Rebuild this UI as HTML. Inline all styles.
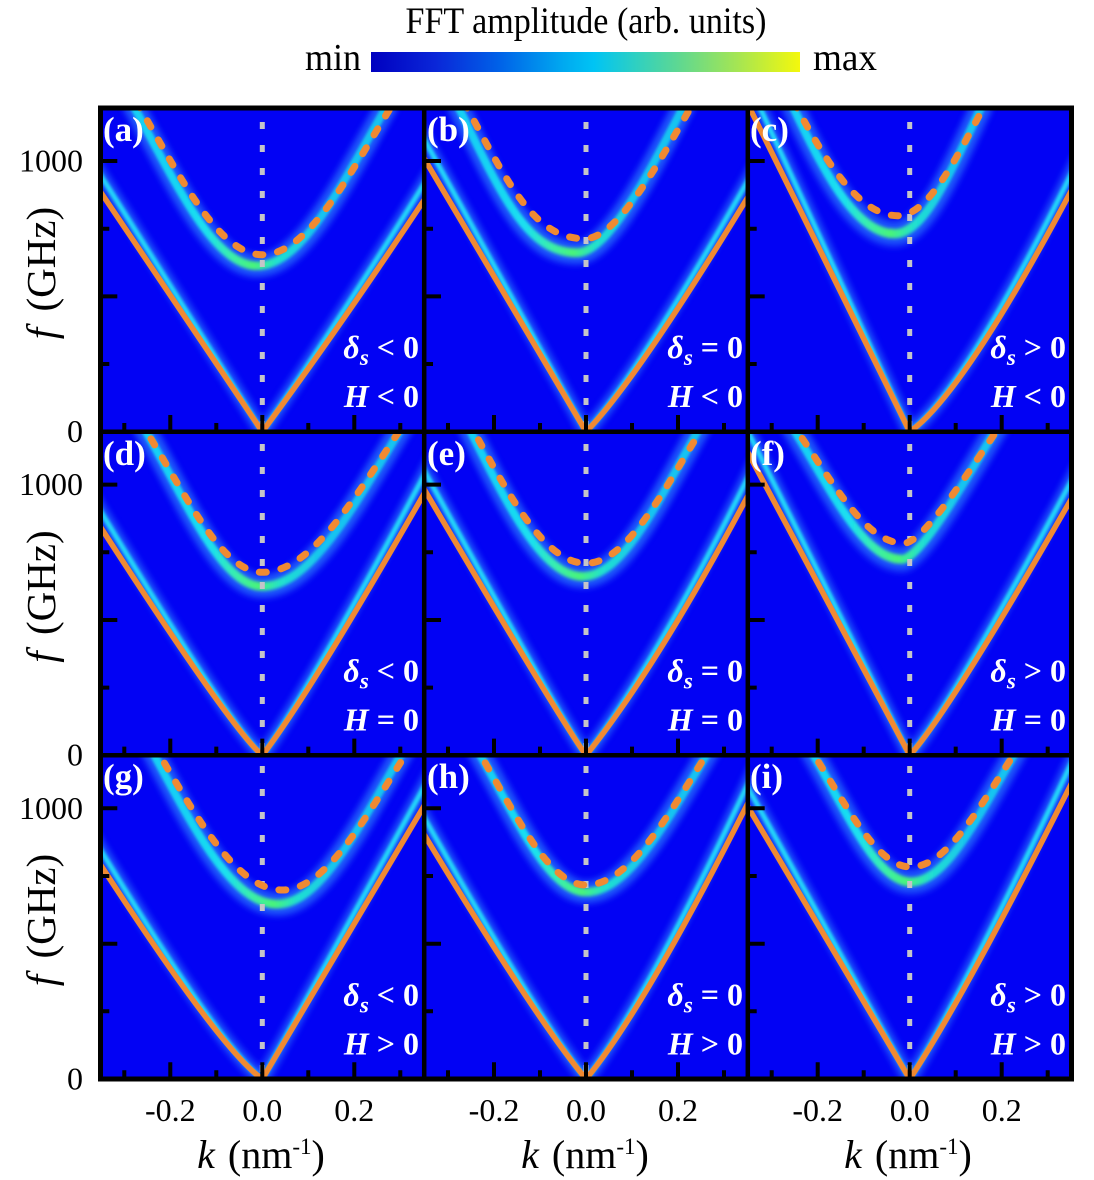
<!DOCTYPE html>
<html>
<head>
<meta charset="utf-8">
<style>
  html, body { margin:0; padding:0; background:#ffffff; }
  svg { display:block; font-family: "Liberation Serif", "Times New Roman", serif; }
  svg text { font-family: "Liberation Serif", "Times New Roman", serif; }
</style>
</head>
<body>
<svg width="1094" height="1180" viewBox="0 0 1094 1180" xmlns="http://www.w3.org/2000/svg" font-family="Liberation Serif, Times New Roman, serif">
  <defs>
    <linearGradient id="cbar" x1="0" y1="0" x2="1" y2="0">
      <stop offset="0" stop-color="#0000c0"/>
      <stop offset="0.15" stop-color="#0a26d8"/>
      <stop offset="0.3" stop-color="#0062e8"/>
      <stop offset="0.45" stop-color="#00aaf0"/>
      <stop offset="0.52" stop-color="#00c4f4"/>
      <stop offset="0.62" stop-color="#30d0c0"/>
      <stop offset="0.72" stop-color="#60d890"/>
      <stop offset="0.86" stop-color="#a8e650"/>
      <stop offset="1" stop-color="#f4f80c"/>
    </linearGradient>
    <clipPath id="cp" clipPathUnits="userSpaceOnUse">
      <rect x="-161.8" y="0" width="323.6" height="323.7"/>
    </clipPath>
    <filter id="b3" x="-20%" y="-20%" width="140%" height="140%"><feGaussianBlur stdDeviation="3.2"/></filter>
    <filter id="b1" x="-20%" y="-20%" width="140%" height="140%"><feGaussianBlur stdDeviation="1.4"/></filter>
    <linearGradient id="gA" gradientUnits="userSpaceOnUse" x1="-100" y1="0" x2="60" y2="0"><stop offset="0" stop-color="#18d0f4"/><stop offset="0.3" stop-color="#1ae0f0"/><stop offset="0.45" stop-color="#38eeb0"/><stop offset="0.6" stop-color="#48f47a"/><stop offset="0.75" stop-color="#20e0d0"/><stop offset="1" stop-color="#18c4f0"/></linearGradient>
    <linearGradient id="gB" gradientUnits="userSpaceOnUse" x1="-101" y1="0" x2="59" y2="0"><stop offset="0" stop-color="#18d0f4"/><stop offset="0.3" stop-color="#1ae0f0"/><stop offset="0.45" stop-color="#38eeb0"/><stop offset="0.6" stop-color="#48f47a"/><stop offset="0.75" stop-color="#20e0d0"/><stop offset="1" stop-color="#18c4f0"/></linearGradient>
    <linearGradient id="gC" gradientUnits="userSpaceOnUse" x1="-112" y1="0" x2="48" y2="0"><stop offset="0" stop-color="#18d0f4"/><stop offset="0.3" stop-color="#1ae0f0"/><stop offset="0.45" stop-color="#38eeb0"/><stop offset="0.6" stop-color="#48f47a"/><stop offset="0.75" stop-color="#20e0d0"/><stop offset="1" stop-color="#18c4f0"/></linearGradient>
    <linearGradient id="gD" gradientUnits="userSpaceOnUse" x1="-100" y1="0" x2="60" y2="0"><stop offset="0" stop-color="#18d0f4"/><stop offset="0.3" stop-color="#1ae0f0"/><stop offset="0.45" stop-color="#38eeb0"/><stop offset="0.6" stop-color="#48f47a"/><stop offset="0.75" stop-color="#20e0d0"/><stop offset="1" stop-color="#18c4f0"/></linearGradient>
    <linearGradient id="gF" gradientUnits="userSpaceOnUse" x1="-106" y1="0" x2="54" y2="0"><stop offset="0" stop-color="#18d0f4"/><stop offset="0.3" stop-color="#1ae0f0"/><stop offset="0.45" stop-color="#38eeb0"/><stop offset="0.6" stop-color="#48f47a"/><stop offset="0.75" stop-color="#20e0d0"/><stop offset="1" stop-color="#18c4f0"/></linearGradient>
    <linearGradient id="gG" gradientUnits="userSpaceOnUse" x1="-80" y1="0" x2="80" y2="0"><stop offset="0" stop-color="#18d0f4"/><stop offset="0.3" stop-color="#1ae0f0"/><stop offset="0.45" stop-color="#38eeb0"/><stop offset="0.6" stop-color="#48f47a"/><stop offset="0.75" stop-color="#20e0d0"/><stop offset="1" stop-color="#18c4f0"/></linearGradient>
    <linearGradient id="gI" gradientUnits="userSpaceOnUse" x1="-99" y1="0" x2="61" y2="0"><stop offset="0" stop-color="#18d0f4"/><stop offset="0.3" stop-color="#1ae0f0"/><stop offset="0.45" stop-color="#38eeb0"/><stop offset="0.6" stop-color="#48f47a"/><stop offset="0.75" stop-color="#20e0d0"/><stop offset="1" stop-color="#18c4f0"/></linearGradient>
  </defs>

  <!-- colorbar header -->
  <text x="586" y="33" font-family="Liberation Serif, serif" font-size="34" text-anchor="middle" textLength="361" lengthAdjust="spacingAndGlyphs" fill="#000" transform="translate(0,-3.3) scale(1,1.1)">FFT amplitude (arb. units)</text>
  <text x="305" y="70" font-family="Liberation Serif, serif" font-size="38" textLength="56" lengthAdjust="spacingAndGlyphs" fill="#000">min</text>
  <rect x="371" y="52" width="429" height="20" fill="url(#cbar)"/>
  <text x="813" y="70" font-family="Liberation Serif, serif" font-size="38" textLength="64" lengthAdjust="spacingAndGlyphs" fill="#000">max</text>

  <!-- background -->
  <rect x="100.5" y="108" width="971" height="971" fill="#0202f4"/>

  <!-- ===== Bands layer ===== -->
  <g fill="none">
    <!-- a -->
    <g transform="translate(262.3,431.7) scale(1,-1)" clip-path="url(#cp)">
      <path d="M-170,252 L0,0 Q78,105 170,244" transform="scale(1,1.07)" stroke="#2f86ff" stroke-width="14" opacity="0.6" filter="url(#b3)"/>
      <path d="M-170,252 L0,0 Q78,105 170,244" transform="scale(1,1.07)" stroke="#22d6fa" stroke-width="5" filter="url(#b1)"/>
      <g transform="translate(-5,-23.8) scale(1,1.072)">
        <path d="M-126,330 C-82,255 -44,177 0,177 C46,177 86,256 132,330" stroke="#2f86ff" stroke-width="21" opacity="0.65" filter="url(#b3)"/>
        <path d="M-126,330 C-82,255 -44,177 0,177 C46,177 86,256 132,330" stroke="url(#gA)" stroke-width="8" filter="url(#b1)"/>
      </g>
    </g>
    <!-- b -->
    <g transform="translate(586,431.7) scale(1,-1)" clip-path="url(#cp)">
      <path d="M-170,287 L0,0 Q50,50 170,248" transform="scale(1,1.07)" stroke="#2f86ff" stroke-width="14" opacity="0.6" filter="url(#b3)"/>
      <path d="M-170,287 L0,0 Q50,50 170,248" transform="scale(1,1.07)" stroke="#22d6fa" stroke-width="5" filter="url(#b1)"/>
      <g transform="translate(-8,-33.7) scale(1,1.102)">
        <path d="M-122,330 C-74,239 -49,193 -1,193 C32,193 75,273 108,330" stroke="#2f86ff" stroke-width="21" opacity="0.65" filter="url(#b3)"/>
        <path d="M-122,330 C-74,239 -49,193 -1,193 C32,193 75,273 108,330" stroke="url(#gB)" stroke-width="8" filter="url(#b1)"/>
      </g>
    </g>
    <!-- c -->
    <g transform="translate(909.7,431.7) scale(1,-1)" clip-path="url(#cp)">
      <path d="M-170,344 L0,0 Q55,38 170,257" transform="scale(1,1.07)" stroke="#2f86ff" stroke-width="14" opacity="0.6" filter="url(#b3)"/>
      <path d="M-170,344 L0,0 Q55,38 170,257" transform="scale(1,1.07)" stroke="#22d6fa" stroke-width="5" filter="url(#b1)"/>
      <g transform="translate(-3,-52.1) scale(1,1.158)">
        <path d="M-116,330 C-80,262 -48,216 -12,216 C19,216 46,273 77,330" stroke="#2f86ff" stroke-width="21" opacity="0.65" filter="url(#b3)"/>
        <path d="M-116,330 C-80,262 -48,216 -12,216 C19,216 46,273 77,330" stroke="url(#gC)" stroke-width="8" filter="url(#b1)"/>
      </g>
    </g>
    <!-- d -->
    <g transform="translate(262.3,755.3) scale(1,-1)" clip-path="url(#cp)">
      <path d="M-170,241 Q-32,27 0,0 Q48,62 170,276" transform="scale(1,1.07)" stroke="#2f86ff" stroke-width="14" opacity="0.6" filter="url(#b3)"/>
      <path d="M-170,241 Q-32,27 0,0 Q48,62 170,276" transform="scale(1,1.07)" stroke="#22d6fa" stroke-width="5" filter="url(#b1)"/>
      <g transform="translate(0,-31.4) scale(1,1.095)">
        <path d="M-123,335 C-80,269 -43,183 0,183 C50,183 94,260 144,335" stroke="#2f86ff" stroke-width="21" opacity="0.65" filter="url(#b3)"/>
        <path d="M-123,335 C-80,269 -43,183 0,183 C50,183 94,260 144,335" stroke="url(#gD)" stroke-width="8" filter="url(#b1)"/>
      </g>
    </g>
    <!-- e -->
    <g transform="translate(586,755.3) scale(1,-1)" clip-path="url(#cp)">
      <path d="M-170,280 Q-30,42 0,0 Q74,92 170,275" transform="scale(1,1.07)" stroke="#2f86ff" stroke-width="14" opacity="0.6" filter="url(#b3)"/>
      <path d="M-170,280 Q-30,42 0,0 Q74,92 170,275" transform="scale(1,1.07)" stroke="#22d6fa" stroke-width="5" filter="url(#b1)"/>
      <g transform="translate(-3,-31.1) scale(1,1.094)">
        <path d="M-118,335 C-77,259 -41,192 0,192 C42,192 79,268 121,335" stroke="#2f86ff" stroke-width="21" opacity="0.65" filter="url(#b3)"/>
        <path d="M-118,335 C-77,259 -41,192 0,192 C42,192 79,268 121,335" stroke="url(#gD)" stroke-width="8" filter="url(#b1)"/>
      </g>
    </g>
    <!-- f -->
    <g transform="translate(909.7,755.3) scale(1,-1)" clip-path="url(#cp)">
      <path d="M-170,318 L0,0 Q41,45 170,271" transform="scale(1,1.07)" stroke="#2f86ff" stroke-width="14" opacity="0.6" filter="url(#b3)"/>
      <path d="M-170,318 L0,0 Q41,45 170,271" transform="scale(1,1.07)" stroke="#22d6fa" stroke-width="5" filter="url(#b1)"/>
      <g transform="translate(-2,-44.8) scale(1,1.136)">
        <path d="M-120,335 C-80,279 -46,212 -6,212 C14,212 64,291 94,335" stroke="#2f86ff" stroke-width="21" opacity="0.65" filter="url(#b3)"/>
        <path d="M-120,335 C-80,279 -46,212 -6,212 C14,212 64,291 94,335" stroke="url(#gF)" stroke-width="8" filter="url(#b1)"/>
      </g>
    </g>
    <!-- g -->
    <g transform="translate(262.3,1079) scale(1,-1)" clip-path="url(#cp)">
      <path d="M-170,227 Q-43,30 0,0 L170,287" transform="scale(1,1.07)" stroke="#2f86ff" stroke-width="14" opacity="0.6" filter="url(#b3)"/>
      <path d="M-170,227 Q-43,30 0,0 L170,287" transform="scale(1,1.07)" stroke="#22d6fa" stroke-width="5" filter="url(#b1)"/>
      <g transform="translate(-5,-32.8) scale(1,1.099)">
        <path d="M-109,335 C-64,258 -25,189 20,189 C65,189 105,265 150,335" stroke="#2f86ff" stroke-width="21" opacity="0.65" filter="url(#b3)"/>
        <path d="M-109,335 C-64,258 -25,189 20,189 C65,189 105,265 150,335" stroke="url(#gG)" stroke-width="8" filter="url(#b1)"/>
      </g>
    </g>
    <!-- h -->
    <g transform="translate(586,1079) scale(1,-1)" clip-path="url(#cp)">
      <path d="M-170,258 Q-52,62 0,0 Q60,72 170,292" transform="scale(1,1.07)" stroke="#2f86ff" stroke-width="14" opacity="0.6" filter="url(#b3)"/>
      <path d="M-170,258 Q-52,62 0,0 Q60,72 170,292" transform="scale(1,1.07)" stroke="#22d6fa" stroke-width="5" filter="url(#b1)"/>
      <g transform="translate(0,-17) scale(1,1.051)">
        <path d="M-112,335 C-73,271 -39,194 0,194 C44,194 83,265 127,335" stroke="#2f86ff" stroke-width="21" opacity="0.65" filter="url(#b3)"/>
        <path d="M-112,335 C-73,271 -39,194 0,194 C44,194 83,265 127,335" stroke="url(#gD)" stroke-width="8" filter="url(#b1)"/>
      </g>
    </g>
    <!-- i -->
    <g transform="translate(909.7,1079) scale(1,-1)" clip-path="url(#cp)">
      <path d="M-170,286 L0,0 Q56,84 170,312" transform="scale(1,1.07)" stroke="#2f86ff" stroke-width="14" opacity="0.6" filter="url(#b3)"/>
      <path d="M-170,286 L0,0 Q56,84 170,312" transform="scale(1,1.07)" stroke="#22d6fa" stroke-width="5" filter="url(#b1)"/>
      <g transform="translate(0,-41.9) scale(1,1.127)">
        <path d="M-103,335 C-67,282 -35,212 1,212 C39,212 73,278 111,335" stroke="#2f86ff" stroke-width="21" opacity="0.65" filter="url(#b3)"/>
        <path d="M-103,335 C-67,282 -35,212 1,212 C39,212 73,278 111,335" stroke="url(#gI)" stroke-width="8" filter="url(#b1)"/>
      </g>
    </g>
  </g>

  <!-- ===== Dotted k=0 lines ===== -->
  <g stroke="#c4c4c8" stroke-width="5" stroke-dasharray="7 16" stroke-dashoffset="9" fill="none">
    <line x1="262.3" y1="108" x2="262.3" y2="1082"/>
    <line x1="586" y1="108" x2="586" y2="1082"/>
    <line x1="909.7" y1="108" x2="909.7" y2="1082"/>
  </g>

  <!-- ===== Orange theory curves ===== -->
  <g fill="none" stroke="#f08a32">
    <g transform="translate(262.3,431.7) scale(1,-1)" clip-path="url(#cp)">
      <path d="M-170,252 L0,0 Q78,105 170,244" stroke-width="5.5" stroke-linejoin="round"/>
      <path d="M-126,330 C-82,255 -44,177 0,177 C46,177 86,256 132,330" stroke-width="7" stroke-dasharray="7 15" stroke-linecap="round"/>
    </g>
    <g transform="translate(586,431.7) scale(1,-1)" clip-path="url(#cp)">
      <path d="M-170,287 L0,0 Q50,50 170,248" stroke-width="5.5" stroke-linejoin="round"/>
      <path d="M-122,330 C-74,239 -49,193 -1,193 C32,193 75,273 108,330" stroke-width="7" stroke-dasharray="7 15" stroke-linecap="round"/>
    </g>
    <g transform="translate(909.7,431.7) scale(1,-1)" clip-path="url(#cp)">
      <path d="M-170,344 L0,0 Q55,38 170,257" stroke-width="5.5" stroke-linejoin="round"/>
      <path d="M-116,330 C-80,262 -48,216 -12,216 C19,216 46,273 77,330" stroke-width="7" stroke-dasharray="7 15" stroke-linecap="round"/>
    </g>
    <g transform="translate(262.3,755.3) scale(1,-1)" clip-path="url(#cp)">
      <path d="M-170,241 Q-32,27 0,0 Q48,62 170,276" stroke-width="5.5" stroke-linejoin="round"/>
      <path d="M-123,335 C-80,269 -43,183 0,183 C50,183 94,260 144,335" stroke-width="7" stroke-dasharray="7 15" stroke-linecap="round"/>
    </g>
    <g transform="translate(586,755.3) scale(1,-1)" clip-path="url(#cp)">
      <path d="M-170,280 Q-30,42 0,0 Q74,92 170,275" stroke-width="5.5" stroke-linejoin="round"/>
      <path d="M-118,335 C-77,259 -41,192 0,192 C42,192 79,268 121,335" stroke-width="7" stroke-dasharray="7 15" stroke-linecap="round"/>
    </g>
    <g transform="translate(909.7,755.3) scale(1,-1)" clip-path="url(#cp)">
      <path d="M-170,318 L0,0 Q41,45 170,271" stroke-width="5.5" stroke-linejoin="round"/>
      <path d="M-120,335 C-80,279 -46,212 -6,212 C14,212 64,291 94,335" stroke-width="7" stroke-dasharray="7 15" stroke-linecap="round"/>
    </g>
    <g transform="translate(262.3,1079) scale(1,-1)" clip-path="url(#cp)">
      <path d="M-170,227 Q-43,30 0,0 L170,287" stroke-width="5.5" stroke-linejoin="round"/>
      <path d="M-109,335 C-64,258 -25,189 20,189 C65,189 105,265 150,335" stroke-width="7" stroke-dasharray="7 15" stroke-linecap="round"/>
    </g>
    <g transform="translate(586,1079) scale(1,-1)" clip-path="url(#cp)">
      <path d="M-170,258 Q-52,62 0,0 Q60,72 170,292" stroke-width="5.5" stroke-linejoin="round"/>
      <path d="M-112,335 C-73,271 -39,194 0,194 C44,194 83,265 127,335" stroke-width="7" stroke-dasharray="7 15" stroke-linecap="round"/>
    </g>
    <g transform="translate(909.7,1079) scale(1,-1)" clip-path="url(#cp)">
      <path d="M-170,286 L0,0 Q56,84 170,312" stroke-width="5.5" stroke-linejoin="round"/>
      <path d="M-103,335 C-67,282 -35,212 1,212 C39,212 73,278 111,335" stroke-width="7" stroke-dasharray="7 15" stroke-linecap="round"/>
    </g>
  </g>

  <!-- ===== Ticks ===== -->
  <g stroke="#000" stroke-width="4" fill="none">
    <g transform="translate(262.3,431.7) scale(1,-1)"><path d="M-138,0V8.7M-92,0V16.7M-46,0V8.7M0,0V16.7M46,0V8.7M92,0V16.7M138,0V8.7M-161.8,67.7H-153M-161.8,135.3H-145M-161.8,203H-153M-161.8,270.7H-145"/></g>
    <g transform="translate(586,431.7) scale(1,-1)"><path d="M-138,0V8.7M-92,0V16.7M-46,0V8.7M0,0V16.7M46,0V8.7M92,0V16.7M138,0V8.7M-161.8,67.7H-153M-161.8,135.3H-145M-161.8,203H-153M-161.8,270.7H-145"/></g>
    <g transform="translate(909.7,431.7) scale(1,-1)"><path d="M-138,0V8.7M-92,0V16.7M-46,0V8.7M0,0V16.7M46,0V8.7M92,0V16.7M138,0V8.7M-161.8,67.7H-153M-161.8,135.3H-145M-161.8,203H-153M-161.8,270.7H-145"/></g>
    <g transform="translate(262.3,755.3) scale(1,-1)"><path d="M-138,0V8.7M-92,0V16.7M-46,0V8.7M0,0V16.7M46,0V8.7M92,0V16.7M138,0V8.7M-161.8,67.7H-153M-161.8,135.3H-145M-161.8,203H-153M-161.8,270.7H-145"/></g>
    <g transform="translate(586,755.3) scale(1,-1)"><path d="M-138,0V8.7M-92,0V16.7M-46,0V8.7M0,0V16.7M46,0V8.7M92,0V16.7M138,0V8.7M-161.8,67.7H-153M-161.8,135.3H-145M-161.8,203H-153M-161.8,270.7H-145"/></g>
    <g transform="translate(909.7,755.3) scale(1,-1)"><path d="M-138,0V8.7M-92,0V16.7M-46,0V8.7M0,0V16.7M46,0V8.7M92,0V16.7M138,0V8.7M-161.8,67.7H-153M-161.8,135.3H-145M-161.8,203H-153M-161.8,270.7H-145"/></g>
    <g transform="translate(262.3,1079) scale(1,-1)"><path d="M-138,0V8.7M-92,0V16.7M-46,0V8.7M0,0V16.7M46,0V8.7M92,0V16.7M138,0V8.7M-161.8,67.7H-153M-161.8,135.3H-145M-161.8,203H-153M-161.8,270.7H-145"/></g>
    <g transform="translate(586,1079) scale(1,-1)"><path d="M-138,0V8.7M-92,0V16.7M-46,0V8.7M0,0V16.7M46,0V8.7M92,0V16.7M138,0V8.7M-161.8,67.7H-153M-161.8,135.3H-145M-161.8,203H-153M-161.8,270.7H-145"/></g>
    <g transform="translate(909.7,1079) scale(1,-1)"><path d="M-138,0V8.7M-92,0V16.7M-46,0V8.7M0,0V16.7M46,0V8.7M92,0V16.7M138,0V8.7M-161.8,67.7H-153M-161.8,135.3H-145M-161.8,203H-153M-161.8,270.7H-145"/></g>
  </g>

  <!-- ===== Frame ===== -->
  <rect x="100.5" y="108" width="971" height="971" fill="none" stroke="#000" stroke-width="5"/>
  <g stroke="#000" stroke-width="4.5">
    <line x1="424.2" y1="108" x2="424.2" y2="1079"/>
    <line x1="747.8" y1="108" x2="747.8" y2="1079"/>
    <line x1="100.5" y1="431.7" x2="1071.5" y2="431.7"/>
    <line x1="100.5" y1="755.3" x2="1071.5" y2="755.3"/>
  </g>

  <!-- ===== Panel labels ===== -->
  <g fill="#fff" font-family="Liberation Serif, serif" font-size="35" font-weight="bold">
    <text x="103" y="141">(a)</text>
    <text x="427" y="141">(b)</text>
    <text x="750" y="141">(c)</text>
    <text x="103" y="465">(d)</text>
    <text x="427" y="465">(e)</text>
    <text x="750" y="465">(f)</text>
    <text x="103" y="788">(g)</text>
    <text x="427" y="788">(h)</text>
    <text x="750" y="788">(i)</text>
  </g>

  <!-- ===== Annotations ===== -->
  <g fill="#fff" font-family="Liberation Serif, serif" font-size="32" font-weight="bold" text-anchor="end">
    <text x="419" y="358"><tspan font-style="italic">δ</tspan><tspan font-style="italic" font-size="23" dy="7">s</tspan><tspan dy="-7"> &lt; 0</tspan></text>
    <text x="419" y="407"><tspan font-style="italic">H</tspan> &lt; 0</text>
    <text x="743" y="358"><tspan font-style="italic">δ</tspan><tspan font-style="italic" font-size="23" dy="7">s</tspan><tspan dy="-7"> = 0</tspan></text>
    <text x="743" y="407"><tspan font-style="italic">H</tspan> &lt; 0</text>
    <text x="1066" y="358"><tspan font-style="italic">δ</tspan><tspan font-style="italic" font-size="23" dy="7">s</tspan><tspan dy="-7"> &gt; 0</tspan></text>
    <text x="1066" y="407"><tspan font-style="italic">H</tspan> &lt; 0</text>

    <text x="419" y="681.7"><tspan font-style="italic">δ</tspan><tspan font-style="italic" font-size="23" dy="7">s</tspan><tspan dy="-7"> &lt; 0</tspan></text>
    <text x="419" y="730.7"><tspan font-style="italic">H</tspan> = 0</text>
    <text x="743" y="681.7"><tspan font-style="italic">δ</tspan><tspan font-style="italic" font-size="23" dy="7">s</tspan><tspan dy="-7"> = 0</tspan></text>
    <text x="743" y="730.7"><tspan font-style="italic">H</tspan> = 0</text>
    <text x="1066" y="681.7"><tspan font-style="italic">δ</tspan><tspan font-style="italic" font-size="23" dy="7">s</tspan><tspan dy="-7"> &gt; 0</tspan></text>
    <text x="1066" y="730.7"><tspan font-style="italic">H</tspan> = 0</text>

    <text x="419" y="1005.4"><tspan font-style="italic">δ</tspan><tspan font-style="italic" font-size="23" dy="7">s</tspan><tspan dy="-7"> &lt; 0</tspan></text>
    <text x="419" y="1054.4"><tspan font-style="italic">H</tspan> &gt; 0</text>
    <text x="743" y="1005.4"><tspan font-style="italic">δ</tspan><tspan font-style="italic" font-size="23" dy="7">s</tspan><tspan dy="-7"> = 0</tspan></text>
    <text x="743" y="1054.4"><tspan font-style="italic">H</tspan> &gt; 0</text>
    <text x="1066" y="1005.4"><tspan font-style="italic">δ</tspan><tspan font-style="italic" font-size="23" dy="7">s</tspan><tspan dy="-7"> &gt; 0</tspan></text>
    <text x="1066" y="1054.4"><tspan font-style="italic">H</tspan> &gt; 0</text>
  </g>

  <!-- ===== Y axis labels ===== -->
  <g fill="#000" font-family="Liberation Serif, serif" font-size="32" text-anchor="end">
    <text x="83" y="171.5">1000</text>
    <text x="83" y="442">0</text>
    <text x="83" y="495">1000</text>
    <text x="83" y="765.5">0</text>
    <text x="83" y="818.8">1000</text>
    <text x="83" y="1089.5">0</text>
  </g>
  <g fill="#000" font-family="Liberation Serif, serif" font-size="41" text-anchor="middle" word-spacing="6">
    <text transform="translate(55,273) rotate(-90)"><tspan font-style="italic">f</tspan> (GHz)</text>
    <text transform="translate(55,596.5) rotate(-90)"><tspan font-style="italic">f</tspan> (GHz)</text>
    <text transform="translate(55,920) rotate(-90)"><tspan font-style="italic">f</tspan> (GHz)</text>
  </g>

  <!-- ===== X axis labels ===== -->
  <g fill="#000" font-family="Liberation Serif, serif" font-size="32" text-anchor="middle">
    <text x="170.3" y="1121">-0.2</text>
    <text x="262.3" y="1121">0.0</text>
    <text x="354.3" y="1121">0.2</text>
    <text x="494" y="1121">-0.2</text>
    <text x="586" y="1121">0.0</text>
    <text x="678" y="1121">0.2</text>
    <text x="817.7" y="1121">-0.2</text>
    <text x="909.7" y="1121">0.0</text>
    <text x="1001.7" y="1121">0.2</text>
  </g>
  <g fill="#000" font-family="Liberation Serif, serif" font-size="40" text-anchor="middle" word-spacing="3">
    <text x="261" y="1168"><tspan font-style="italic">k</tspan> (nm<tspan font-size="23" dy="-14">-1</tspan><tspan dy="14">)</tspan></text>
    <text x="585" y="1168"><tspan font-style="italic">k</tspan> (nm<tspan font-size="23" dy="-14">-1</tspan><tspan dy="14">)</tspan></text>
    <text x="908" y="1168"><tspan font-style="italic">k</tspan> (nm<tspan font-size="23" dy="-14">-1</tspan><tspan dy="14">)</tspan></text>
  </g>
</svg>
</body>
</html>
